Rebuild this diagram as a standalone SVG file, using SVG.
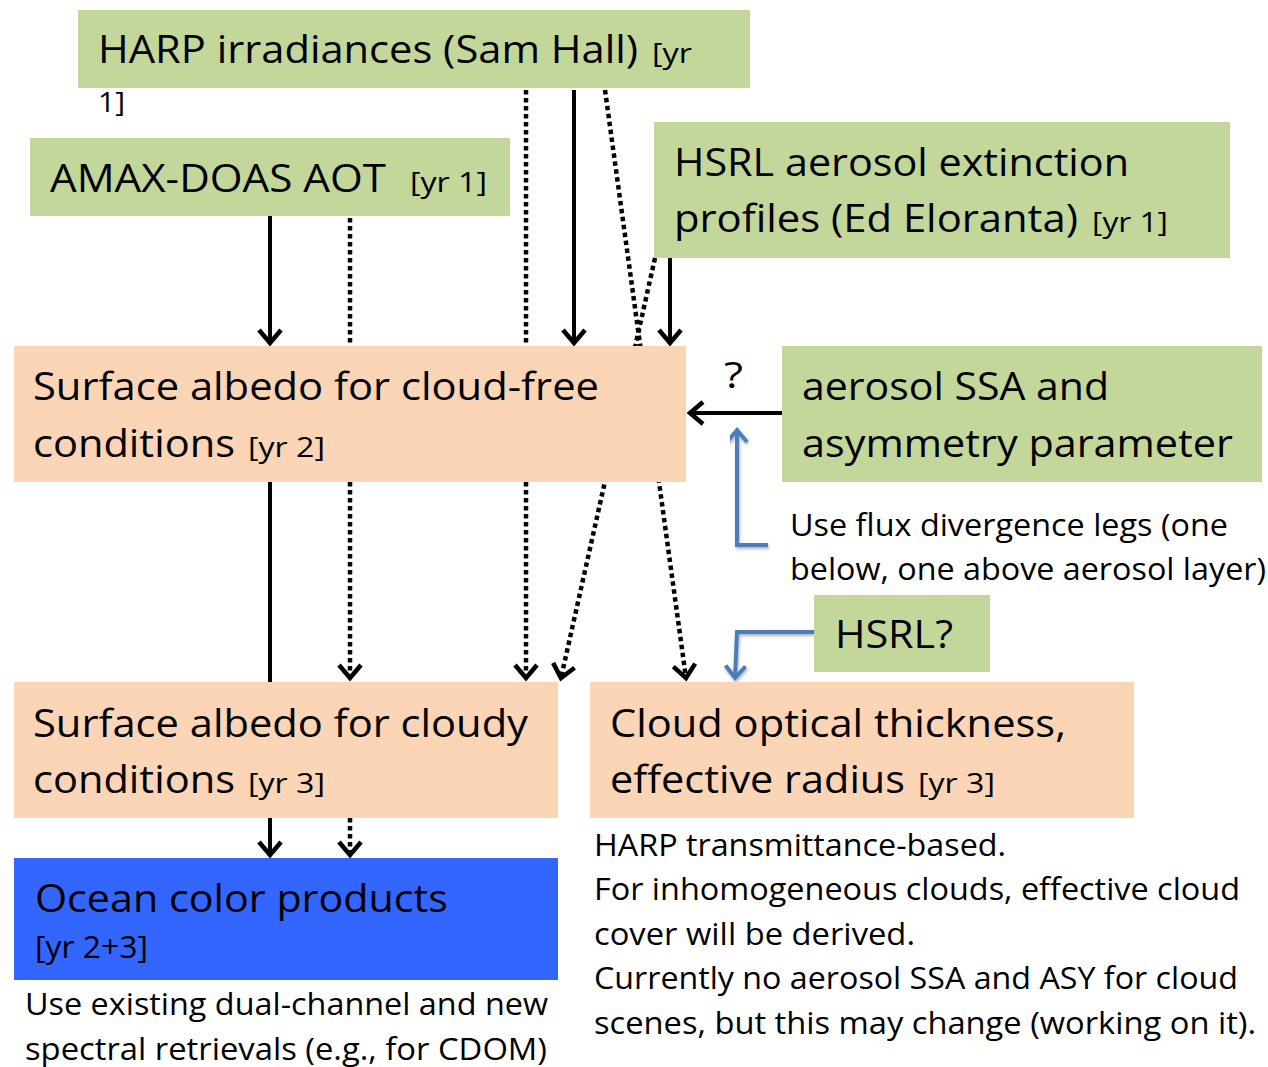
<svg xmlns="http://www.w3.org/2000/svg" width="1268" height="1067" viewBox="0 0 1268 1067">
  <style>
    text { font-family: "Open Sans", "Noto Sans", "Liberation Sans", sans-serif; fill: #000; }
    .big { font-size: 39px; }
    .tag { font-size: 28px; }
    .note { font-size: 31px; }
    .green { fill: #C4D79B; }
    .peach { fill: #FBD5B5; }
    .ocean { fill: #3366FF; }
    .solid { stroke: #000; stroke-width: 4; fill: none; }
    .dotted { stroke: #000; stroke-width: 4.5; fill: none; stroke-dasharray: 4.5 3.5; }
    .blue { stroke: #4A7EBB; stroke-width: 4; fill: none; }
  </style>
  <defs>
    <marker id="head" markerUnits="userSpaceOnUse" viewBox="-16 -14 18 28" refX="0" refY="0" markerWidth="18" markerHeight="28" orient="auto" overflow="visible">
      <path d="M -13 -11 L 0 0 L -13 11" fill="none" stroke="#000" stroke-width="4.5"/>
    </marker>
    <marker id="headBlue" markerUnits="userSpaceOnUse" viewBox="-16 -14 18 28" refX="0" refY="0" markerWidth="18" markerHeight="28" orient="auto" overflow="visible">
      <path d="M -12 -10 L 0 0 L -12 10" fill="none" stroke="#4A7EBB" stroke-width="4"/>
    </marker>
    <filter id="soft" x="-20%" y="-20%" width="140%" height="140%">
      <feDropShadow dx="1" dy="2" stdDeviation="1.5" flood-color="#000" flood-opacity="0.3"/>
    </filter>
  </defs>

  <!-- connectors, drawn first so boxes sit on top -->
  <g id="connectors">
    <line class="solid" x1="270" y1="216" x2="270" y2="343" marker-end="url(#head)"/>
    <line class="dotted" x1="350" y1="218" x2="350" y2="678" marker-end="url(#head)"/>
    <line class="dotted" x1="526" y1="90" x2="526" y2="678" marker-end="url(#head)"/>
    <line class="solid" x1="574" y1="90" x2="574" y2="343" marker-end="url(#head)"/>
    <line class="dotted" x1="605" y1="90" x2="686" y2="678" marker-end="url(#head)"/>
    <line class="dotted" x1="655" y1="258" x2="561" y2="678" marker-end="url(#head)"/>
    <line class="solid" x1="670" y1="258" x2="670" y2="343" marker-end="url(#head)"/>
    <line class="solid" x1="782" y1="413" x2="690" y2="413" marker-end="url(#head)"/>
    <line class="solid" x1="270" y1="482" x2="270" y2="855" marker-end="url(#head)"/>
    <line class="dotted" x1="350" y1="818" x2="350" y2="855" marker-end="url(#head)"/>
    <polyline class="blue" filter="url(#soft)" points="768,545 737,545 737,430" marker-end="url(#headBlue)"/>
    <polyline class="blue" filter="url(#soft)" points="814,632 737,632 735,678" marker-end="url(#headBlue)"/>
  </g>

  <g id="harp">
    <rect class="green" x="78" y="10" width="672" height="78"/>
    <text class="big" x="98" y="63" textLength="540" lengthAdjust="spacingAndGlyphs">HARP irradiances (Sam Hall)</text>
    <text class="tag" x="652" y="63" textLength="40" lengthAdjust="spacingAndGlyphs">[yr</text>
    <text class="tag" x="98" y="112" textLength="27" lengthAdjust="spacingAndGlyphs">1]</text>
  </g>

  <g id="amax">
    <rect class="green" x="30" y="138" width="480" height="78"/>
    <text class="big" x="50" y="192" textLength="336" lengthAdjust="spacingAndGlyphs">AMAX-DOAS AOT</text>
    <text class="tag" x="410" y="192" textLength="77" lengthAdjust="spacingAndGlyphs">[yr 1]</text>
  </g>

  <g id="hsrl">
    <rect class="green" x="654" y="122" width="576" height="136"/>
    <text class="big" x="674" y="176" textLength="455" lengthAdjust="spacingAndGlyphs">HSRL aerosol extinction</text>
    <text class="big" x="674" y="232" textLength="404" lengthAdjust="spacingAndGlyphs">profiles (Ed Eloranta)</text>
    <text class="tag" x="1092" y="232" textLength="76" lengthAdjust="spacingAndGlyphs">[yr 1]</text>
  </g>

  <g id="albedo-clear">
    <rect class="peach" x="14" y="346" width="672" height="136"/>
    <text class="big" x="33" y="400" textLength="566" lengthAdjust="spacingAndGlyphs">Surface albedo for cloud-free</text>
    <text class="big" x="33" y="457" textLength="202" lengthAdjust="spacingAndGlyphs">conditions</text>
    <text class="tag" x="248" y="457" textLength="77" lengthAdjust="spacingAndGlyphs">[yr 2]</text>
  </g>

  <g id="ssa">
    <rect class="green" x="782" y="346" width="480" height="136"/>
    <text class="big" x="802" y="400" textLength="307" lengthAdjust="spacingAndGlyphs">aerosol SSA and</text>
    <text class="big" x="802" y="457" textLength="431" lengthAdjust="spacingAndGlyphs">asymmetry parameter</text>
  </g>

  <g id="hsrl-q">
    <rect class="green" x="814" y="595" width="176" height="77"/>
    <text class="big" x="835" y="648" textLength="118" lengthAdjust="spacingAndGlyphs">HSRL?</text>
  </g>

  <g id="albedo-cloudy">
    <rect class="peach" x="14" y="682" width="544" height="136"/>
    <text class="big" x="33" y="737" textLength="495" lengthAdjust="spacingAndGlyphs">Surface albedo for cloudy</text>
    <text class="big" x="33" y="793" textLength="202" lengthAdjust="spacingAndGlyphs">conditions</text>
    <text class="tag" x="248" y="793" textLength="77" lengthAdjust="spacingAndGlyphs">[yr 3]</text>
  </g>

  <g id="cloud-optics">
    <rect class="peach" x="590" y="682" width="544" height="136"/>
    <text class="big" x="610" y="737" textLength="456" lengthAdjust="spacingAndGlyphs">Cloud optical thickness,</text>
    <text class="big" x="610" y="793" textLength="295" lengthAdjust="spacingAndGlyphs">effective radius</text>
    <text class="tag" x="918" y="793" textLength="77" lengthAdjust="spacingAndGlyphs">[yr 3]</text>
  </g>

  <g id="ocean-color">
    <rect class="ocean" x="14" y="858" width="544" height="122"/>
    <text class="big" x="35" y="912" textLength="413" lengthAdjust="spacingAndGlyphs">Ocean color products</text>
    <text class="note" x="35" y="958" textLength="113" lengthAdjust="spacingAndGlyphs">[yr 2+3]</text>
  </g>

  <!-- free-standing annotations -->
  <g id="notes">
    <text x="724" y="388" style="font-size:36px" textLength="19" lengthAdjust="spacingAndGlyphs">?</text>
    <text class="note" x="790" y="536" textLength="438" lengthAdjust="spacingAndGlyphs">Use flux divergence legs (one</text>
    <text class="note" x="790" y="580" textLength="476" lengthAdjust="spacingAndGlyphs">below, one above aerosol layer)</text>
    <text class="note" x="594" y="856" textLength="412" lengthAdjust="spacingAndGlyphs">HARP transmittance-based.</text>
    <text class="note" x="594" y="900" textLength="646" lengthAdjust="spacingAndGlyphs">For inhomogeneous clouds, effective cloud</text>
    <text class="note" x="594" y="945" textLength="321" lengthAdjust="spacingAndGlyphs">cover will be derived.</text>
    <text class="note" x="594" y="989" textLength="644" lengthAdjust="spacingAndGlyphs">Currently no aerosol SSA and ASY for cloud</text>
    <text class="note" x="594" y="1034" textLength="662" lengthAdjust="spacingAndGlyphs">scenes, but this may change (working on it).</text>
    <text class="note" x="25" y="1015" textLength="523" lengthAdjust="spacingAndGlyphs">Use existing dual-channel and new</text>
    <text class="note" x="25" y="1060" textLength="522" lengthAdjust="spacingAndGlyphs">spectral retrievals (e.g., for CDOM)</text>
  </g>
</svg>
